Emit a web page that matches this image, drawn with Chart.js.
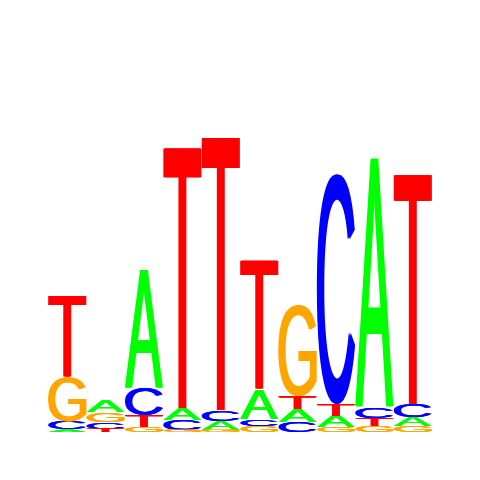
<!DOCTYPE html>
<html>
<head>
<meta charset="utf-8">
<script src="https://cdn.jsdelivr.net/npm/chart.js@4.4.1/dist/chart.umd.min.js"></script>
<style>
  html, body { margin: 0; padding: 0; background: #fff; }
  #wrap { width: 480px; height: 480px; }
</style>
</head>
<body>
<div id="wrap"><canvas id="logoChart"></canvas></div>
<script>
// positions of the motif
const positions = ['1', '2', '3', '4', '5', '6', '7', '8', '9', '10'];

// letter heights in bits
const heightA = [0.013, 0.060, 0.615, 0.063, 0.047, 0.156, 0.068, 0.057, 1.302, 0.047];
const heightC = [0.039, 0.036, 0.141, 0.052, 0.057, 0.036, 0.052, 1.198, 0.052, 0.068];
const heightG = [0.234, 0.050, 0.026, 0.010, 0.010, 0.031, 0.474, 0.026, 0.031, 0.031];
const heightT = [0.422, 0.016, 0.063, 1.365, 1.432, 0.672, 0.068, 0.063, 0.042, 1.203];

const letters = ['A', 'C', 'G', 'T'];
const letterColors = { A: '#00ff00', C: '#0000ff', G: '#ffa500', T: '#ff0000' };
const heights = { A: heightA, C: heightC, G: heightG, T: heightT };

// each column is stacked smallest at the bottom, so build floating bars per letter
function buildRanges() {
  const ranges = { A: [], C: [], G: [], T: [] };
  positions.forEach((p, i) => {
    const col = letters.map(l => ({ l, v: heights[l][i] }));
    col.sort((a, b) => a.v - b.v);
    let base = 0;
    col.forEach(item => {
      ranges[item.l][i] = [base, base + item.v];
      base += item.v;
    });
  });
  return ranges;
}

const ranges = buildRanges();

// draws each bar as a stretched letter glyph
// (drawn 3 times shifted by 1px to fatten the vertical strokes a bit)
const letterPlugin = {
  id: 'letterPlugin',
  afterDatasetsDraw(chart) {
    const ctx = chart.ctx;
    chart.data.datasets.forEach((ds, di) => {
      const meta = chart.getDatasetMeta(di);
      const letter = ds.label;
      ctx.save();
      ctx.font = '200px "Liberation Sans", Arial, sans-serif';
      ctx.textBaseline = 'alphabetic';
      ctx.textAlign = 'left';
      const m = ctx.measureText(letter);
      const gw = m.actualBoundingBoxLeft + m.actualBoundingBoxRight;
      const gh = m.actualBoundingBoxAscent + m.actualBoundingBoxDescent;
      meta.data.forEach(el => {
        const top = Math.min(el.y, el.base);
        const h = Math.abs(el.base - el.y);
        const w = el.width - 2;
        if (h < 0.5) return;
        [0, 1, 2].forEach(dx => {
          ctx.save();
          ctx.translate(el.x - el.width / 2 + dx, top);
          ctx.scale(w / gw, h / gh);
          ctx.fillStyle = letterColors[letter];
          ctx.fillText(letter, m.actualBoundingBoxLeft, m.actualBoundingBoxAscent);
          ctx.restore();
        });
      });
      ctx.restore();
    });
  }
};

new Chart(document.getElementById('logoChart'), {
  type: 'bar',
  data: {
    labels: positions,
    datasets: letters.map(l => ({
      label: l,
      data: ranges[l],
      backgroundColor: 'rgba(0,0,0,0)',
      borderWidth: 0,
      grouped: false,
      barPercentage: 1,
      categoryPercentage: 1
    }))
  },
  options: {
    responsive: true,
    maintainAspectRatio: false,
    animation: false,
    devicePixelRatio: 1,
    layout: { padding: { left: 48, right: 48, top: 48, bottom: 48 } },
    plugins: {
      legend: { display: false },
      tooltip: { enabled: false }
    },
    scales: {
      x: { display: false },
      y: { display: false, min: 0, max: 2 }
    }
  },
  plugins: [letterPlugin]
});
</script>
</body>
</html>
